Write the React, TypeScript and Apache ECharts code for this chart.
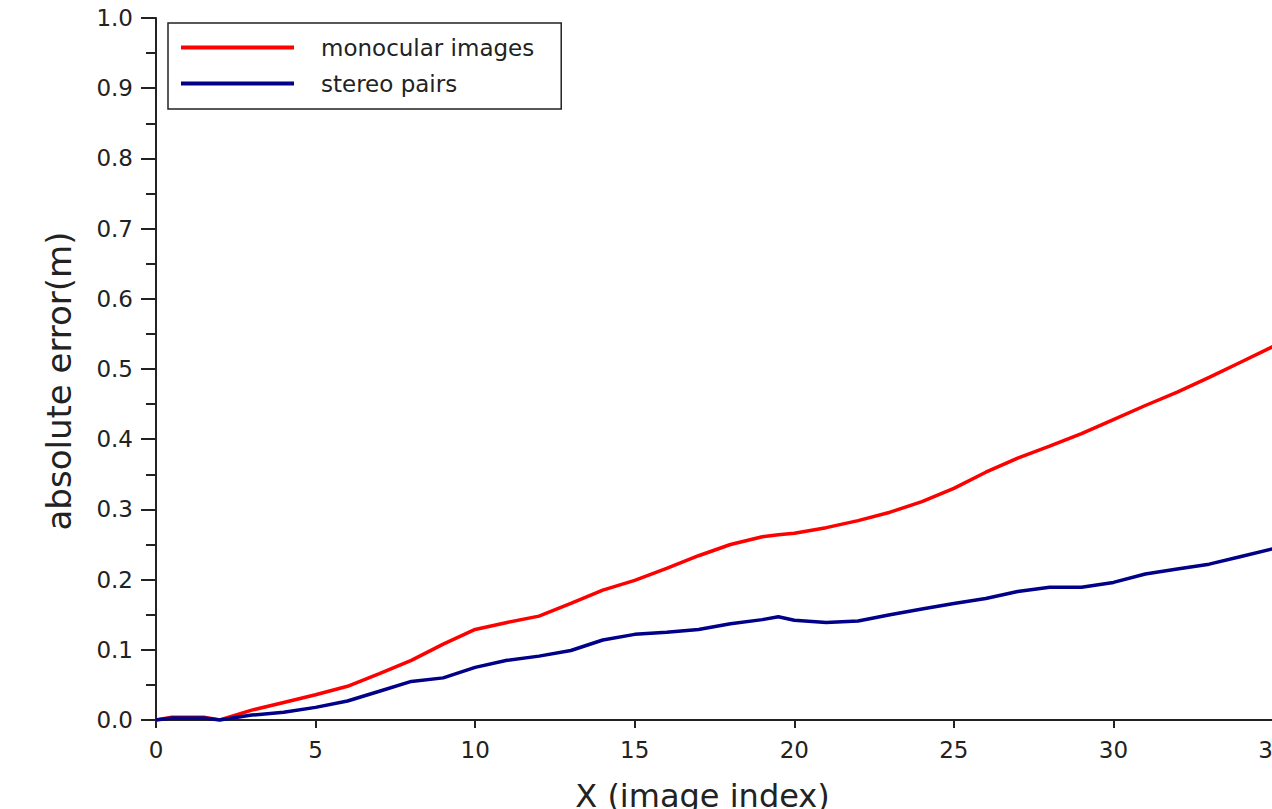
import React, { useEffect, useRef } from "react";
import * as echarts from "echarts";

const xValues = [0, 0.5, 1, 1.5, 2, 3, 4, 5, 6, 7, 8, 9, 10, 11, 12, 13, 14, 15, 16, 17, 18, 19, 19.5, 20, 21, 22, 23, 24, 25, 26, 27, 28, 29, 30, 31, 32, 33, 34, 35];
const monocular = [0.0, 0.004, 0.004, 0.004, 0.0, 0.014, 0.025, 0.036, 0.048, 0.066, 0.085, 0.108, 0.129, 0.139, 0.148, 0.166, 0.185, 0.199, 0.216, 0.234, 0.25, 0.261, 0.264, 0.266, 0.274, 0.284, 0.296, 0.311, 0.33, 0.353, 0.373, 0.39, 0.408, 0.428, 0.448, 0.467, 0.488, 0.51, 0.532];
const stereo = [0.0, 0.003, 0.003, 0.003, 0.0, 0.007, 0.011, 0.018, 0.027, 0.041, 0.055, 0.06, 0.075, 0.085, 0.091, 0.099, 0.114, 0.122, 0.125, 0.129, 0.137, 0.143, 0.147, 0.142, 0.139, 0.141, 0.15, 0.158, 0.166, 0.173, 0.183, 0.189, 0.189, 0.196, 0.208, 0.215, 0.222, 0.233, 0.244];
const seriesNames = ["monocular images", "stereo pairs"];
const xName = "X (image index)";
const yName = "absolute error(m)";

const FONT = "DejaVu Sans";
const AXIS = "#222222";

export default function App() {
  const ref = useRef<HTMLDivElement>(null);
  useEffect(() => {
    if (!ref.current) return;
    const chart = echarts.init(ref.current, null, { renderer: "svg" });
    const axisCommon = {
      axisLine: { show: true, lineStyle: { color: AXIS, width: 2 } },
      splitLine: { show: false },
    };
    chart.setOption({
      animation: false,
      backgroundColor: "#ffffff",
      grid: { left: 156, top: 18, width: 1117, height: 702, outerBoundsMode: "none", containLabel: false },
      legend: {
        orient: "vertical",
        left: 168,
        top: 23,
        padding: [13, 27, 14, 13],
        itemGap: 13,
        itemWidth: 113,
        itemHeight: 4,
        icon: "rect",
        borderColor: AXIS,
        borderWidth: 1.5,
        borderRadius: 0,
        backgroundColor: "#ffffff",
        textStyle: { fontFamily: FONT, fontSize: 23, color: AXIS, padding: [0, 0, 0, 22] },
        data: seriesNames,
      },
      xAxis: {
        type: "value",
        min: 0,
        max: 35,
        interval: 5,
        ...axisCommon,
        axisTick: { show: true, length: 8, lineStyle: { color: AXIS, width: 2 } },
        axisLabel: { fontFamily: FONT, fontSize: 23, color: AXIS, margin: 18, showMaxLabel: true },
        name: xName,
        nameLocation: "middle",
        nameGap: 60,
        nameTextStyle: { fontFamily: FONT, fontSize: 32, color: AXIS, padding: [0, 24, 0, 0] },
      },
      yAxis: {
        type: "value",
        min: 0,
        max: 1,
        interval: 0.1,
        ...axisCommon,
        axisTick: { show: true, length: 15, lineStyle: { color: AXIS, width: 2 } },
        minorTick: { show: true, splitNumber: 2, length: 10, lineStyle: { color: AXIS, width: 2 } },
        minorSplitLine: { show: false },
        axisLabel: {
          fontFamily: FONT,
          fontSize: 23,
          color: AXIS,
          margin: 23,
          formatter: (v: number) => v.toFixed(1),
        },
        name: yName,
        nameLocation: "middle",
        nameGap: 80,
        nameRotate: 90,
        nameTextStyle: { fontFamily: FONT, fontSize: 34, color: AXIS, padding: [0, 24, 0, 0] },
      },
      series: [
        {
          name: seriesNames[0],
          type: "line",
          showSymbol: false,
          symbol: "none",
          data: xValues.map((x, i) => [x, monocular[i]]),
          lineStyle: { color: "#ff0000", width: 3.5 },
          itemStyle: { color: "#ff0000" },
        },
        {
          name: seriesNames[1],
          type: "line",
          showSymbol: false,
          symbol: "none",
          data: xValues.map((x, i) => [x, stereo[i]]),
          lineStyle: { color: "#000088", width: 3.5 },
          itemStyle: { color: "#000088" },
        },
      ],
    });
    return () => chart.dispose();
  }, []);
  return (
    <div
      ref={ref}
      style={{ position: "fixed", left: 0, top: 0, width: 1272, height: 809, background: "#fff" }}
    />
  );
}
